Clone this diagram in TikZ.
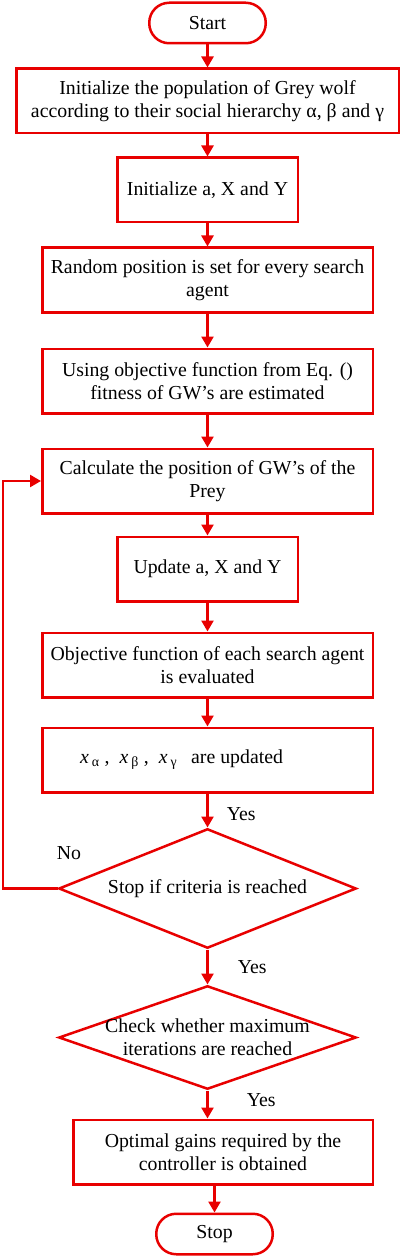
\documentclass[tikz,border=0pt]{standalone}
\usepackage{fontspec}
\setmainfont{Liberation Serif}
\usetikzlibrary{arrows.meta, positioning, shapes.geometric}
\definecolor{gwored}{RGB}{232,0,0}

\begin{document}
\begin{tikzpicture}[
    x=1pt, y=1pt,
    font=\fontsize{19.8}{23.3}\selectfont,
    term/.style={rectangle, rounded corners=20pt, draw=gwored, line width=2.5pt, minimum width=116.5pt, minimum height=40.5pt, align=center},
    box/.style={rectangle, draw=gwored, line width=2.5pt, fill=white, minimum width=330.5pt, minimum height=64.5pt, align=center, inner sep=2pt},
    smallbox/.style={box, minimum width=180.5pt},
    decision/.style={diamond, draw=gwored, line width=2.5pt, align=center, inner xsep=0pt, inner ysep=-6pt, minimum width=297.5pt},
    yes/.style={inner sep=0pt, text=black},
    arrow/.style={-{Triangle[length=11pt, width=12pt]}, line width=2.5pt, color=gwored}
]
\useasboundingbox (0,0) rectangle (401,-1257);
\node[term] (start) at (207.5,-23) {Start};
\node[box, minimum width=382.5pt, below=23pt of start] (init) {Initialize the population of Grey wolf\\according to their social hierarchy α, β and γ};
\node[smallbox, below=22pt of init] (setax) {Initialize a, X and Y};
\node[box, below=23pt of setax] (rand) {Random position is set for every search\\agent};
\node[box, below=34pt of rand] (fit) {Using objective function from Eq. ()\\fitness of GW’s are estimated};
\node[box, below=33pt of fit] (calc) {Calculate the position of GW’s of the\\Prey};
\node[smallbox, below=21pt of calc] (upd) {Update a, X and Y};
\node[box, below=29pt of upd] (obj) {Objective function of each search agent\\is evaluated};
\node[box, below=28pt of obj] (xup) {\textit{x}\kern3pt\textsubscript{α}\kern5pt,\kern10pt\textit{x}\kern3pt\textsubscript{β}\kern5pt,\kern10pt\textit{x}\kern3pt\textsubscript{γ}\kern14pt are updated\hspace*{52pt}};
\node[decision, shape aspect=2.46, minimum height=119.5pt, below=34pt of xup] (chk) {Stop if criteria is reached};
\node[decision, shape aspect=2.83, minimum height=103.5pt, below=35pt of chk] (maxit) {Check whether maximum\\iterations are reached};
\node[box, minimum width=299.5pt, below=28pt of maxit, xshift=15.5pt] (opt) {Optimal gains required by the\\controller is obtained};
\node[term, below=27pt of opt, xshift=-8.5pt] (stop) {Stop};

\draw[arrow] (start) -- (init);
\draw[arrow] (init) -- (setax);
\draw[arrow] (setax) -- (rand);
\draw[arrow] (rand) -- (fit);
\draw[arrow] (fit) -- (calc);
\draw[arrow] (calc) -- (upd);
\draw[arrow] (upd) -- (obj);
\draw[arrow] (obj) -- (xup);
\draw[arrow] (xup) -- node[yes, pos=0.6, right=18pt]{Yes} (chk);
\draw[arrow] (chk) -- node[yes, pos=0.5, right=29pt]{Yes} (maxit);
\draw[arrow] (maxit) -- node[yes, pos=0.34, right=38pt]{Yes} (maxit |- opt.north);
\draw[arrow] (opt.south -| stop) -- (stop);
\draw[arrow] (chk.west) node[yes, above right=28pt and -2pt]{No} -- ++(-54.5,0) |- (calc.west);
\end{tikzpicture}
\end{document}
